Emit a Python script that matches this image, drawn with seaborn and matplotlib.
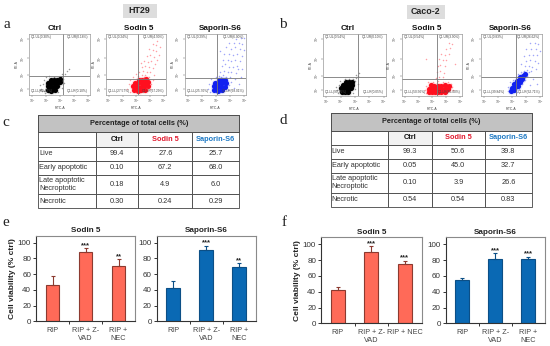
import pandas as pd
import seaborn as sns
import matplotlib
matplotlib.use('Agg')
import matplotlib.pyplot as plt
from matplotlib.patches import Rectangle

sns.set_theme(style='white')
plt.rcParams['font.family'] = ['Liberation Sans', 'DejaVu Sans']

W, H = 550, 346
RED = '#ff6a58'
RED_EDGE = '#8c3a30'
BLUE = '#0a69b4'
BLUE_EDGE = '#0c4f86'

# -------------------------
# Flow cytometry gates and events (log decades)
# -------------------------
ht29_ctrl_core = [(1.5, .42), (1.8, .36), (2.1, .42), (1.5, .7), (1.75, .65), (2.0, .65), (2.3, .7), (1.55, 1.0),
                  (1.8, .95), (2.05, .95), (2.3, 1.0), (2.5, 1.05), (1.75, 1.25), (2.0, 1.25), (2.3, 1.25), (2.5, 1.33)]
ht29_ctrl_dots = [(1.0, .5), (1.1, .9), (1.2, .3), (1.25, 1.2), (.9, .8), (1.35, 1.45), (1.6, 1.55), (2.0, 1.5),
                  (2.6, 1.5), (2.75, 1.3), (2.85, 1.0), (2.7, .6), (2.4, .25), (1.3, .15), (2.9, 1.7), (3.1, 1.95),
                  (3.3, 2.1), (2.7, 1.75), (1.05, .3), (.85, .45)]

ht29_sod_core = [(2.35, .4), (2.65, .33), (2.95, .38), (3.25, .45), (2.3, .7), (2.6, .65), (2.9, .65), (3.2, .7),
                 (3.5, .75), (2.4, 1.0), (2.7, .95), (3.0, .95), (3.3, 1.0), (3.55, 1.05), (2.75, 1.25), (3.05, 1.25),
                 (3.35, 1.28)]
ht29_sod_dots = [(1.8, .5), (1.9, .9), (2.0, .25), (2.05, 1.25), (3.7, .5), (3.8, .9), (3.9, 1.2), (2.3, 1.5),
                 (2.7, 1.55), (3.0, 1.6), (3.3, 1.6), (3.6, 1.5), (2.8, 1.9), (3.1, 2.0), (3.4, 1.85), (3.7, 1.9),
                 (3.0, 2.3), (3.3, 2.4), (3.6, 2.3), (3.9, 2.2), (3.2, 2.8), (3.5, 2.7), (3.8, 2.8), (4.1, 2.5),
                 (3.4, 3.2), (3.7, 3.3), (4.0, 3.1), (4.3, 2.9), (3.6, 3.8), (3.9, 3.7), (4.2, 3.6), (4.4, 3.3),
                 (3.9, 4.2), (4.2, 4.1), (4.5, 3.9), (4.25, 4.4), (3.2, 1.45), (2.5, 1.7), (2.9, 2.6), (4.0, 1.6)]

ht29_sap_core = [(2.4, .4), (2.7, .33), (3.0, .4), (2.35, .7), (2.65, .65), (2.95, .65), (3.25, .68), (2.45, 1.0),
                 (2.75, .95), (3.05, .95), (3.32, .95), (2.75, 1.25), (3.05, 1.25), (3.3, 1.25)]
ht29_sap_dots = [(1.9, .5), (2.0, .9), (2.05, .25), (2.15, 1.3), (3.5, .4), (3.6, .8), (3.8, 1.1), (4.0, .6),
                 (2.5, 1.5), (2.8, 1.55), (3.1, 1.6), (3.4, 1.5), (3.7, 1.45), (4.1, 1.3), (4.4, .9), (2.9, 1.9),
                 (3.2, 2.0), (3.5, 1.85), (3.8, 1.9), (4.2, 1.8), (4.6, 1.5), (3.0, 2.4), (3.3, 2.5), (3.6, 2.3),
                 (3.9, 2.3), (4.3, 2.4), (4.7, 2.1), (3.1, 2.9), (3.5, 2.9), (3.8, 2.8), (4.1, 2.9), (4.5, 2.8),
                 (3.2, 3.4), (3.6, 3.4), (3.9, 3.3), (4.3, 3.4), (4.7, 3.2), (3.4, 3.9), (3.8, 3.8), (4.1, 3.9),
                 (4.5, 3.8), (4.8, 3.7), (3.6, 4.3), (4.0, 4.3), (4.4, 4.3), (4.7, 4.2), (4.2, 4.6), (4.6, 4.65),
                 (2.9, 3.6), (2.95, 1.45), (4.85, 4.7), (4.35, 2.1)]

caco_ctrl_core = [(1.5, .36), (1.75, .3), (2.0, .36), (1.45, .62), (1.7, .58), (1.95, .58), (2.2, .62), (1.55, .88),
                  (1.8, .84), (2.05, .84), (2.3, .88), (1.8, 1.1), (2.05, 1.1), (2.32, 1.12)]
caco_ctrl_dots = [(1.1, .5), (1.2, .25), (1.25, .9), (1.35, 1.2), (1.7, 1.35), (2.05, 1.4), (2.4, 1.35), (2.55, 1.2),
                  (2.65, 1.45), (2.75, 1.0), (2.5, .6), (2.8, 1.6), (2.6, 1.7), (2.9, 1.85), (2.35, .25), (1.0, .75)]

caco_sod_core = [(2.3, .35), (2.55, .3), (2.8, .3), (3.05, .3), (3.3, .33), (3.55, .35), (2.3, .6), (2.55, .55),
                 (2.8, .55), (3.05, .55), (3.3, .58), (3.55, .6), (3.8, .58), (2.4, .85), (2.7, .82), (3.0, .82),
                 (3.3, .82), (3.6, .85), (3.95, .78)]
caco_sod_dots = [(1.9, .5), (2.0, .8), (2.05, .25), (2.2, 1.1), (2.6, 1.15), (3.0, 1.2), (3.4, 1.15), (3.8, 1.1),
                 (4.15, .7), (4.25, .45), (4.1, 1.0), (2.85, 1.45), (3.1, 1.5), (3.4, 1.5), (2.9, 1.9), (3.15, 2.0),
                 (3.5, 1.85), (3.0, 2.4), (3.2, 2.5), (3.55, 2.4), (3.1, 3.0), (3.4, 2.9), (3.7, 2.9), (3.3, 3.4),
                 (3.6, 3.3), (3.9, 3.4), (3.7, 3.8), (4.0, 3.9), (4.15, 4.2), (3.9, 4.3), (4.4, 2.6), (2.0, 3.0)]

caco_sap_core = [(2.45, .42), (2.7, .45), (2.5, .68), (2.75, .72), (3.0, .8), (2.7, .95), (2.95, 1.02), (3.18, 1.1),
                 (2.95, 1.25), (3.2, 1.3), (3.4, 1.4), (3.2, 1.52), (3.42, 1.6), (3.58, 1.75)]
caco_sap_dots = [(2.2, .4), (2.25, .75), (2.4, 1.1), (2.65, 1.3), (2.85, 1.55), (3.0, 1.75), (3.25, 1.9), (3.5, 2.05),
                 (3.75, 2.1), (3.75, 1.6), (3.6, 1.3), (3.4, .95), (3.1, .6), (2.95, .35), (3.9, 1.9), (4.1, 2.0),
                 (3.6, 2.4), (3.9, 2.4), (4.2, 2.3), (4.5, 2.2), (3.3, 2.6), (3.7, 2.8), (4.0, 2.9), (4.4, 2.8),
                 (4.7, 2.7), (3.5, 3.2), (3.9, 3.3), (4.3, 3.3), (4.6, 3.3), (3.7, 3.8), (4.1, 3.8), (4.5, 3.8),
                 (4.8, 3.6), (4.0, 4.3), (4.4, 4.3), (4.7, 4.2), (4.3, 1.4), (4.6, 1.0), (4.0, .9)]

ht29_gates = [(2.75, 1.56), (2.65, 1.34), (2.62, 1.37)]
caco_gates = [(2.75, 1.55), (2.9, 1.35), (2.85, 1.5)]

ht29_quads = [('0.30', '0.18', '99.42', '0.10'), ('0.24', '4.90', '27.57', '67.29'), ('0.29', '6.00', '25.70', '68.01')]
caco_quads = [('0.54', '0.10', '99.31', '0.05'), ('0.54', '3.90', '50.56', '45.00'), ('0.83', '26.62', '39.84', '32.71')]

# -------------------------
# Tables
# -------------------------
table_title = 'Percentage of total cells (%)'
table_columns = ['', 'Ctrl', 'Sodin 5', 'Saporin-S6']
row_names = ['Live', 'Early apoptotic', 'Late apoptotic\nNecroptotic', 'Necrotic']
ht29_ctrl_pct = ['99.4', '0.10', '0.18', '0.30']
ht29_sod_pct = ['27.6', '67.2', '4.9', '0.24']
ht29_sap_pct = ['25.7', '68.0', '6.0', '0.29']
caco_ctrl_pct = ['99.3', '0.05', '0.10', '0.54']
caco_sod_pct = ['50.6', '45.0', '3.9', '0.54']
caco_sap_pct = ['39.8', '32.7', '26.6', '0.83']

# -------------------------
# Bars
# -------------------------
bar_labels_e = ['RIP', 'RIP + Z-\nVAD', 'RIP +\nNEC']
bar_labels_f = ['RIP', 'RIP + Z-\nVAD', 'RIP + NEC']
e_sod_mean = [46, 88, 71]
e_sod_err = [12, 5, 8]
e_sod_star = ['', '***', '**']
e_sap_mean = [43, 91, 69]
e_sap_err = [8, 5, 5]
e_sap_star = ['', '***', '**']
f_sod_mean = [42.5, 90.5, 75.5]
f_sod_err = [3, 7, 4]
f_sod_star = ['', '***', '***']
f_sap_mean = [55, 81.5, 81]
f_sap_err = [3, 7, 3.5]
f_sap_star = ['', '***', '***']


def px_axes(left, top, right, bottom):
    return fig.add_axes([left / W, 1 - bottom / H, (right - left) / W, (bottom - top) / H])


def fig_text(x, y, s, **kw):
    kw.setdefault('ha', 'center')
    kw.setdefault('va', 'center')
    fig.text(x / W, 1 - y / H, s, **kw)


def flow_panel(box, core, dots, color, gate, quads):
    ax = px_axes(*box)
    dots_df = pd.DataFrame(dots, columns=['x', 'y'])
    core_df = pd.DataFrame(core, columns=['x', 'y'])
    sns.scatterplot(data=dots_df, x='x', y='y', color=color, s=1.2, alpha=.4, linewidth=0, ax=ax, legend=False)
    # soft halo round the dense cloud, then the cloud itself
    sns.scatterplot(data=core_df, x='x', y='y', color=color, s=30, alpha=.09, linewidth=0, ax=ax, legend=False)
    sns.scatterplot(data=core_df, x='x', y='y', color=color, s=14, linewidth=0, ax=ax, legend=False)
    ax.axvline(gate[0], color='#777777', lw=.6)
    ax.axhline(gate[1], color='#777777', lw=.6)
    ax.set_xlim(0, 5)
    ax.set_ylim(0, 5)
    ax.set_xticks([.25, 1.4, 2.55, 3.7, 4.85], ['$10^1$', '$10^2$', '$10^3$', '$10^4$', '$10^5$'])
    ax.set_yticks([.5, 1.65, 3.0, 4.6], ['$10^2$', '$10^3$', '$10^4$', '$10^5$'])
    ax.tick_params(length=1.2, width=.3, labelsize=2.2, pad=.6, colors='#555555', bottom=True, left=True)
    plt.setp(ax.get_yticklabels(), rotation=90, va='center')
    ax.set_xlabel('FITC-A', fontsize=2.4, labelpad=.5, color='#444444')
    ax.set_ylabel('PE-A', fontsize=2.4, labelpad=.5, color='#444444')
    for sp in ax.spines.values():
        sp.set_color('#999999')
        sp.set_linewidth(.5)
    qs = dict(fontsize=2.3, color='#444444', transform=ax.transAxes)
    ax.text(.03, .95, f'Q1-UL({quads[0]}%)', ha='left', va='center', **qs)
    ax.text(.97, .95, f'Q1-UR({quads[1]}%)', ha='right', va='center', **qs)
    ax.text(.03, .06, f'Q1-LL({quads[2]}%)', ha='left', va='center', **qs)
    ax.text(.97, .06, f'Q1-LR({quads[3]}%)', ha='right', va='center', **qs)


def pct_table(box, col_edges, row_edges, col1, col2, col3):
    ax = px_axes(*box)
    ax.axis('off')
    rows = [[''] * 4, table_columns]
    for i, name in enumerate(row_names):
        rows.append([name, col1[i], col2[i], col3[i]])
    total_w = col_edges[-1] - col_edges[0]
    total_h = row_edges[-1] - row_edges[0]
    widths = [(col_edges[i + 1] - col_edges[i]) / total_w for i in range(4)]
    tb = ax.table(cellText=rows, colWidths=widths, cellLoc='center', bbox=[0, 0, 1, 1])
    tb.auto_set_font_size(False)
    tb.set_fontsize(5.35)
    for (r, c), cell in tb.get_celld().items():
        cell.set_height((row_edges[r + 1] - row_edges[r]) / total_h)
        cell.set_edgecolor('#444444')
        cell.set_linewidth(.6)
        cell.get_text().set_color('#333333')
        if r == 1:
            cell.get_text().set_fontweight('bold')
            cell.get_text().set_color(['#333333', '#111111', '#e0182d', '#1c78c4'][c])
            if c == 1:
                cell.set_facecolor('#f2f2f2')
        if r > 1 and c == 0:
            cell.PAD = .015
            cell.set_text_props(ha='left')
    # merged header band over the first row
    band = (row_edges[1] - row_edges[0]) / total_h
    ax.add_patch(Rectangle((0, 1 - band), 1, band, transform=ax.transAxes, facecolor='#c2c2c2',
                           edgecolor='#444444', linewidth=.6, zorder=3, clip_on=False))
    ax.text(.5, 1 - band / 2, table_title, transform=ax.transAxes, ha='center', va='center',
            fontsize=5.35, fontweight='bold', color='#222222', zorder=4)


def bar_panel(box, labels, means, errs, stars, color, edge, title, ylabel=False):
    ax = px_axes(*box)
    df = pd.DataFrame({'group': labels, 'value': means})
    sns.barplot(data=df, x='group', y='value', color=color, width=.42, saturation=1, edgecolor=edge,
                linewidth=.8, errorbar=None, ax=ax)
    ax.errorbar(range(3), means, yerr=[[0, 0, 0], errs], fmt='none', ecolor=edge, elinewidth=.8,
                capsize=1.4, capthick=.8)
    for i in range(3):
        if stars[i]:
            ax.text(i, means[i] + errs[i] - 1, stars[i], ha='center', va='bottom', fontsize=5.5,
                    fontweight='bold', color='#222222')
    ax.set_xlim(-.5, 2.5)
    ax.set_ylim(0, 109)
    ax.set_yticks([0, 20, 40, 60, 80, 100])
    ax.set_xticks([.5, 1.5], ['', ''])
    for i, lab in enumerate(labels):
        ax.text(i, -7, lab, ha='center', va='top', fontsize=5.2, color='#444444', linespacing=1.2)
    ax.set_xlabel('')
    ax.set_ylabel('')
    ax.tick_params(axis='both', length=2, width=.7, color='#333333', bottom=True, left=True)
    ax.tick_params(axis='y', labelsize=5.8, pad=1.5, labelcolor='#333333')
    for name, sp in ax.spines.items():
        sp.set_color('#333333' if name in ('left', 'bottom') else '#8a8a8a')
        sp.set_linewidth(.8)
    ax.set_title(title, fontsize=5.9, fontweight='bold', pad=2.5, color='#222222')
    if ylabel:
        ax.set_ylabel('Cell viability (% ctrl)', fontsize=6, fontweight='bold', color='#222222', labelpad=1.5)


fig = plt.figure(figsize=(W / 100, H / 100), dpi=100, facecolor='white')

# -------------------------
# Flow panels a, b
# -------------------------
flow_panel((29.3, 34, 90, 95), ht29_ctrl_core, ht29_ctrl_dots, 'black', ht29_gates[0], ht29_quads[0])
flow_panel((106, 34, 165.7, 95), ht29_sod_core, ht29_sod_dots, '#ff0f1f', ht29_gates[1], ht29_quads[1])
flow_panel((185, 34, 246, 95), ht29_sap_core, ht29_sap_dots, '#1020f0', ht29_gates[2], ht29_quads[2])
flow_panel((323.3, 34, 385.7, 96), caco_ctrl_core, caco_ctrl_dots, 'black', caco_gates[0], caco_quads[0])
flow_panel((401.7, 34, 462, 96), caco_sod_core, caco_sod_dots, '#ff0f1f', caco_gates[1], caco_quads[1])
flow_panel((481, 34, 542, 96), caco_sap_core, caco_sap_dots, '#1020f0', caco_gates[2], caco_quads[2])

# grey title boxes
for (l, t, r, b), name in [((122.7, 4, 156.7, 17.7), 'HT29'), ((406.7, 5, 445, 19), 'Caco-2')]:
    box_ax = px_axes(l, t, r, b)
    box_ax.set_facecolor('#dddddd')
    box_ax.set_xticks([])
    box_ax.set_yticks([])
    sns.despine(ax=box_ax, left=True, bottom=True)
    box_ax.text(.5, .5, name, transform=box_ax.transAxes, ha='center', va='center', fontsize=6.4,
                fontweight='bold', color='#222222')

for x, s in [(55, 'Ctrl'), (139, 'Sodin 5'), (220, 'Saporin-S6'), (348, 'Ctrl'), (426.7, 'Sodin 5'), (510, 'Saporin-S6')]:
    fig_text(x, 28, s, fontsize=5.9, fontweight='bold', color='#111111')

# -------------------------
# Tables c, d
# -------------------------
pct_table((38.3, 115, 239.3, 208.3), [115, 287, 415, 577, 718], [15, 67, 110, 152, 194, 252, 295],
          ht29_ctrl_pct, ht29_sod_pct, ht29_sap_pct)
pct_table((331, 113.3, 531.7, 206.7), [168, 338, 470, 630, 770], [10, 62, 104, 146, 188, 249, 290],
          caco_ctrl_pct, caco_sod_pct, caco_sap_pct)

# -------------------------
# Bar panels e, f
# -------------------------
bar_panel((36, 235.7, 135, 321.3), bar_labels_e, e_sod_mean, e_sod_err, e_sod_star, RED, RED_EDGE, 'Sodin 5', ylabel=True)
bar_panel((156.7, 235.7, 256, 321.3), bar_labels_e, e_sap_mean, e_sap_err, e_sap_star, BLUE, BLUE_EDGE, 'Saporin-S6')
bar_panel((321, 237.3, 421.7, 323.3), bar_labels_f, f_sod_mean, f_sod_err, f_sod_star, RED, RED_EDGE, 'Sodin 5', ylabel=True)
bar_panel((445.7, 237.3, 545, 323.3), bar_labels_e, f_sap_mean, f_sap_err, f_sap_star, BLUE, BLUE_EDGE, 'Saporin-S6')

# panel letters
for x, y, s in [(6.7, 25, 'a'), (283, 24, 'b'), (6, 122, 'c'), (283, 120, 'd'), (6, 223, 'e'), (284, 222, 'f')]:
    fig_text(x, y, s, fontsize=11, family=['Liberation Serif'], color='#222222')

fig.savefig('out.png', dpi=100)
